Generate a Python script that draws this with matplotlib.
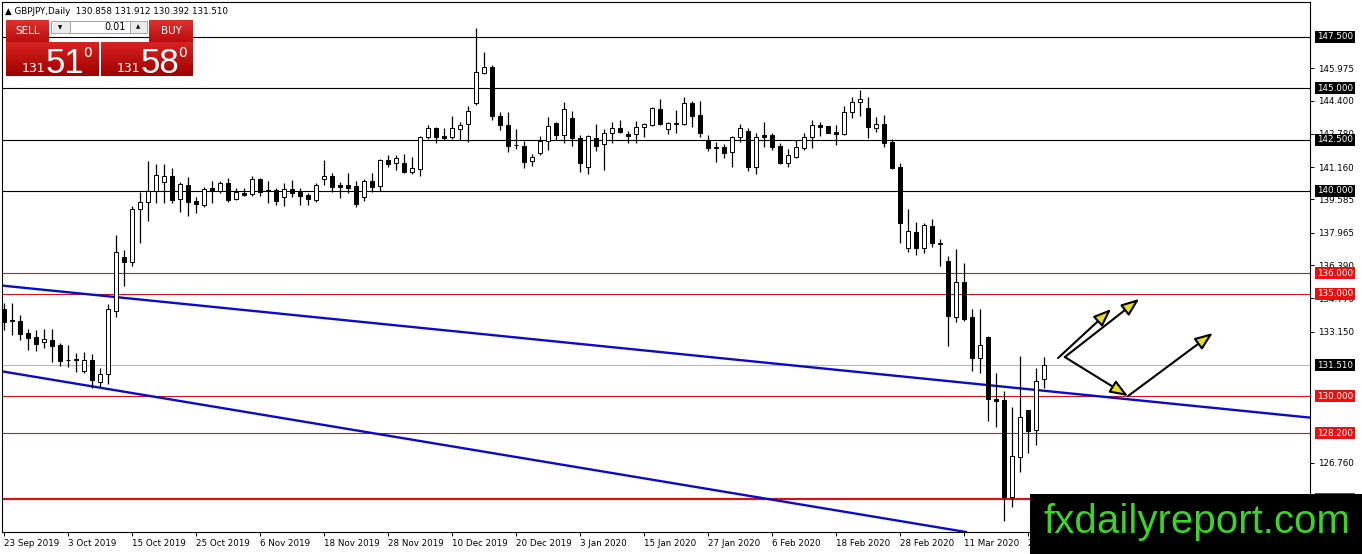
import matplotlib
matplotlib.use("Agg")
import matplotlib.pyplot as plt
import numpy as np
from matplotlib.patches import Rectangle
from matplotlib.transforms import blended_transform_factory

# GBPJPY daily candles, one per trading day from 23 Sep 2019
opens = [134.24, 133.72, 133.67, 133.07, 132.87, 132.66, 132.74, 132.50, 131.78, 131.81,
         131.25, 131.77, 130.71, 131.07, 134.17, 136.77, 136.56, 139.11, 139.45, 140.01,
         140.42, 140.73, 139.59, 140.29, 139.53, 139.30, 140.13, 140.01, 140.37, 139.59,
         139.92, 139.84, 140.57, 140.03, 140.05, 139.72, 140.08, 139.96, 139.80, 139.56,
         140.57, 140.73, 140.29, 140.29, 140.24, 139.69, 140.49, 140.24, 141.51, 141.38,
         141.35, 140.94, 141.09, 142.61, 143.08, 142.68, 142.61, 143.00, 143.25, 144.27,
         145.73, 146.02, 143.67, 143.21, 142.22, 142.19, 141.46, 141.84, 142.42, 143.30,
         142.73, 143.54, 142.57, 141.15, 142.57, 142.27, 142.81, 143.07, 142.78, 142.76,
         143.13, 143.21, 143.98, 143.00, 143.28, 143.26, 144.27, 143.70, 142.48, 142.14,
         142.13, 141.88, 142.61, 142.92, 141.18, 142.73, 142.73, 142.19, 141.35, 141.67,
         142.11, 142.61, 143.21, 143.16, 142.89, 142.76, 143.83, 144.35, 144.03, 143.05,
         143.26, 142.40, 141.18, 137.21, 138.02, 137.21, 138.31, 137.48, 136.59, 133.88,
         135.55, 133.85, 131.85, 132.87, 129.85, 129.82, 125.08, 127.06, 129.33, 128.36,
         130.858]
highs = [134.54, 134.53, 133.96, 133.26, 133.23, 133.28, 133.26, 132.58, 132.50, 132.12,
         132.16, 132.06, 131.36, 134.49, 137.86, 137.13, 139.27, 139.96, 141.46, 141.31,
         141.31, 141.10, 140.45, 140.67, 139.72, 140.21, 140.49, 140.49, 140.62, 140.13,
         140.16, 140.73, 140.62, 140.49, 140.13, 140.40, 140.53, 140.16, 139.89, 140.40,
         141.51, 140.86, 140.45, 140.86, 140.49, 140.57, 140.86, 141.57, 141.75, 141.75,
         141.79, 141.67, 142.69, 143.21, 143.13, 143.08, 143.65, 143.37, 144.14, 147.92,
         146.78, 146.14, 143.83, 143.83, 143.02, 142.45, 141.80, 142.68, 143.59, 143.37,
         144.35, 143.91, 142.73, 142.73, 143.25, 143.00, 143.37, 143.46, 142.92, 143.41,
         143.33, 144.08, 144.47, 143.37, 143.94, 144.56, 144.38, 144.38, 142.73, 142.40,
         142.29, 142.68, 143.26, 143.05, 142.81, 143.35, 142.81, 142.32, 142.03, 142.48,
         142.84, 143.46, 143.35, 143.16, 143.21, 144.14, 144.56, 144.92, 144.56, 143.59,
         143.70, 142.52, 141.35, 139.11, 138.50, 138.45, 138.62, 137.65, 136.83, 137.16,
         136.48, 134.24, 134.24, 132.94, 131.15, 130.27, 129.46, 131.98, 129.33, 131.36,
         131.912]
lows = [133.23, 132.98, 132.74, 132.25, 132.22, 132.37, 131.68, 131.47, 131.44, 131.20,
        131.12, 130.39, 130.44, 130.60, 133.88, 135.37, 136.35, 137.45, 138.55, 139.40,
        139.40, 139.40, 138.99, 138.80, 138.94, 139.23, 139.40, 139.89, 139.48, 139.56,
        139.76, 139.76, 139.76, 139.43, 139.32, 139.28, 139.72, 139.32, 139.32, 139.48,
        140.29, 139.96, 139.64, 139.92, 139.23, 139.51, 139.94, 140.00, 141.18, 141.02,
        140.86, 140.83, 140.74, 142.53, 142.32, 142.48, 142.53, 142.48, 142.40, 144.19,
        145.70, 143.46, 142.97, 141.91, 142.03, 141.10, 141.23, 141.75, 142.00, 142.48,
        142.35, 142.19, 140.94, 140.81, 141.96, 141.02, 142.35, 142.81, 142.32, 142.35,
        142.61, 143.16, 143.21, 142.76, 142.81, 143.21, 143.13, 142.61, 141.95, 141.43,
        141.59, 141.18, 142.40, 140.99, 140.83, 142.16, 142.00, 141.31, 141.18, 141.62,
        142.00, 142.08, 142.68, 142.81, 142.24, 142.73, 143.54, 143.65, 142.57, 142.89,
        142.16, 141.06, 137.45, 137.04, 136.88, 136.96, 137.29, 136.35, 132.46, 133.63,
        133.68, 131.25, 131.15, 128.81, 128.49, 123.94, 124.62, 126.33, 127.25, 127.63,
        130.392]
closes = [133.63, 133.65, 133.02, 132.82, 132.53, 132.79, 132.46, 131.73, 131.76, 131.79,
          131.77, 130.79, 131.07, 134.24, 137.01, 136.56, 139.11, 139.45, 140.01, 140.78,
          140.73, 139.56, 140.34, 139.48, 139.35, 140.08, 140.00, 140.37, 139.56, 139.95,
          139.79, 140.57, 139.96, 139.99, 139.53, 140.08, 139.92, 139.77, 139.59, 140.28,
          140.73, 140.21, 140.21, 140.16, 139.35, 140.47, 140.21, 141.51, 141.31, 141.62,
          140.94, 141.10, 142.61, 143.08, 142.61, 142.59, 143.05, 143.21, 143.90, 145.78,
          146.02, 143.67, 143.21, 142.21, 142.25, 141.43, 141.67, 142.43, 143.18, 142.71,
          143.98, 142.57, 141.35, 142.68, 142.21, 142.81, 143.05, 142.89, 142.69, 143.13,
          143.25, 144.03, 143.25, 143.30, 143.31, 144.27, 143.67, 142.81, 142.11, 142.11,
          141.86, 142.61, 143.05, 141.18, 142.64, 142.64, 142.16, 141.35, 141.75, 142.13,
          142.61, 143.21, 143.13, 142.84, 142.76, 143.83, 144.35, 144.47, 143.13, 143.26,
          142.35, 141.10, 138.43, 138.07, 137.21, 138.34, 137.45, 137.40, 133.92, 135.58,
          133.76, 131.85, 132.50, 129.85, 129.78, 125.08, 127.09, 128.98, 128.32, 130.73,
          131.510]

date_labels = ["23 Sep 2019", "3 Oct 2019", "15 Oct 2019", "25 Oct 2019", "6 Nov 2019",
               "18 Nov 2019", "28 Nov 2019", "10 Dec 2019", "20 Dec 2019", "3 Jan 2020",
               "15 Jan 2020", "27 Jan 2020", "6 Feb 2020", "18 Feb 2020", "28 Feb 2020",
               "11 Mar 2020", "23 Mar 2020"]
label_step = 8

black_levels = [147.5, 145.0, 142.5, 140.0]
red_levels = [136.0, 135.0, 130.0, 128.2]
support_level = 125.0
bid = 131.51
ask = 131.58
price_ticks = [145.975, 144.400, 142.780, 141.160, 139.585, 137.965, 136.390,
               134.770, 133.150, 126.760, 125.140]

# trend lines, two anchor points each (bar index, price)
upper_trend = [(-0.5, 135.40), (163.25, 128.96)]
lower_trend = [(-0.5, 131.23), (120.25, 123.39)]

# projected paths (bar index, price)
arrows = [((131.75, 131.86), (138.4, 134.25)),
          ((132.6, 131.91), (141.9, 134.74)),
          ((132.6, 131.91), (140.5, 130.01)),
          ((140.5, 130.01), (151.1, 133.08))]

W, H = 1362, 554
fig = plt.figure(figsize=(W / 100, H / 100), dpi=100, facecolor="white")
ax = fig.add_axes([2 / W, (H - 532) / H, 1308 / W, 530 / H])
ax.set_xlim(-0.25, 163.25)
ax.set_ylim(123.39, 149.2)

for lvl in black_levels:
    ax.axhline(lvl, color="black", lw=0.8, zorder=1)
for lvl in red_levels:
    ax.axhline(lvl, color="#d01515", lw=0.8, zorder=1)
ax.axhline(support_level, color="#d01515", lw=1.6, zorder=1)
ax.axhline(bid, color="#b8b8b8", lw=0.8, zorder=1)

ax.axline(upper_trend[0], upper_trend[1], color="#0a0ac8", lw=1.7, zorder=2)
ax.axline(lower_trend[0], lower_trend[1], color="#0a0ac8", lw=1.7, zorder=2)

x = np.arange(len(opens))
o = np.array(opens)
c = np.array(closes)
up = c >= o
ax.vlines(x, lows, highs, color="black", lw=0.9, zorder=3)
ax.bar(x, np.maximum(np.abs(c - o), 0.02), bottom=np.minimum(o, c), width=0.62,
       color=np.where(up, "white", "black"), edgecolor="black", linewidth=0.7, zorder=4)

for start, end in arrows:
    ax.annotate("", xy=end, xytext=start,
                arrowprops=dict(arrowstyle="-|>,head_length=0.9,head_width=0.35",
                                fc="#e8dc20", ec="black", lw=1.5,
                                shrinkA=0, shrinkB=0, mutation_scale=12), zorder=5)

# axes look
for sp in ax.spines.values():
    sp.set_linewidth(0.8)
ax.yaxis.tick_right()
ax.set_yticks(price_ticks)
ax.set_yticklabels([f"{v:.3f}" for v in price_ticks])
ax.tick_params(axis="y", labelsize=6.3, length=3, pad=3, width=0.7)
ax.set_xticks(np.arange(len(date_labels)) * label_step)
ax.set_xticklabels(date_labels, ha="left")
ax.tick_params(axis="x", labelsize=6.3, length=3, pad=2, width=0.7)

trans = blended_transform_factory(ax.transAxes, ax.transData)
bx = 1 + 7 / 1308
for lvl in black_levels:
    ax.text(bx, lvl, f"{lvl:.3f}", transform=trans, fontsize=6.3, color="white",
            va="center", ha="left", clip_on=False, zorder=6,
            bbox=dict(boxstyle="square,pad=0.18", fc="black", ec="none"))
for lvl in red_levels + [support_level]:
    ax.text(bx, lvl, f"{lvl:.3f}", transform=trans, fontsize=6.3, color="white",
            va="center", ha="left", clip_on=False, zorder=6,
            bbox=dict(boxstyle="square,pad=0.18", fc="#e81010", ec="none"))
ax.text(bx, bid, f"{bid:.3f}", transform=trans, fontsize=6.3, color="white",
        va="center", ha="left", clip_on=False, zorder=6,
        bbox=dict(boxstyle="square,pad=0.18", fc="black", ec="none"))

# overlay in pixel coords: header, one-click panel, watermark
ui = fig.add_axes([0, 0, 1, 1], zorder=10)
ui.patch.set_alpha(0)
ui.axis("off")


def grad_box(x0, y0, x1, y1, top, bottom):
    g = np.linspace(0, 1, 32)[:, None, None]
    img = np.array(top)[None, None, :] * (1 - g) + np.array(bottom)[None, None, :] * g
    ui.imshow(img / 255, extent=(x0, x1, y1, y0), aspect="auto", origin="upper",
              interpolation="bilinear")


ui.text(5, 11, f"\u25b2 GBPJPY,Daily  {opens[-1]:.3f} {highs[-1]:.3f} {lows[-1]:.3f} {closes[-1]:.3f}",
        fontsize=6.3, va="center", ha="left", color="black")

grad_box(6, 20, 49, 42, (222, 50, 50), (185, 12, 12))
grad_box(149, 20, 193, 42, (222, 50, 50), (185, 12, 12))
ui.text(27.5, 31, "SELL", color="white", fontsize=7.5, ha="center", va="center")
ui.text(171, 31, "BUY", color="white", fontsize=7.5, ha="center", va="center")
ui.add_patch(Rectangle((51, 21), 19, 12, fc="#ececec", ec="#9a9a9a", lw=0.6))
ui.add_patch(Rectangle((70, 21), 60, 12, fc="white", ec="#9a9a9a", lw=0.6))
ui.add_patch(Rectangle((130, 21), 17, 12, fc="#ececec", ec="#9a9a9a", lw=0.6))
ui.text(60.5, 27.5, "\u25bc", fontsize=4, ha="center", va="center")
ui.text(138.5, 27, "\u25b2", fontsize=4, ha="center", va="center")
ui.text(126, 27.5, "0.01", fontsize=7, ha="right", va="center")

grad_box(6, 42, 99, 76, (215, 35, 35), (160, 0, 0))
grad_box(101, 42, 193, 76, (215, 35, 35), (160, 0, 0))
sell_big, buy_big = f"{bid:.2f}".split("."), f"{ask:.2f}".split(".")
for x0, (whole, frac) in [(6, sell_big), (101, buy_big)]:
    ui.text(x0 + 27, 72, whole, color="white", fontsize=9, ha="center", va="baseline")
    ui.text(x0 + 40, 73, frac, color="white", fontsize=25, ha="left", va="baseline",
            family="Liberation Sans")
    ui.text(x0 + 77, 46, "0", color="white", fontsize=10, ha="left", va="top")

ui.add_patch(Rectangle((1030, 494), 332, 60, fc="black", ec="none"))
ui.text(1197, 522, "fxdailyreport.com", color="#3fd12b", fontsize=29, ha="center",
        va="center", family="Liberation Sans")

ui.set_xlim(0, W)
ui.set_ylim(H, 0)

fig.savefig("out.png", dpi=100, facecolor="white")
